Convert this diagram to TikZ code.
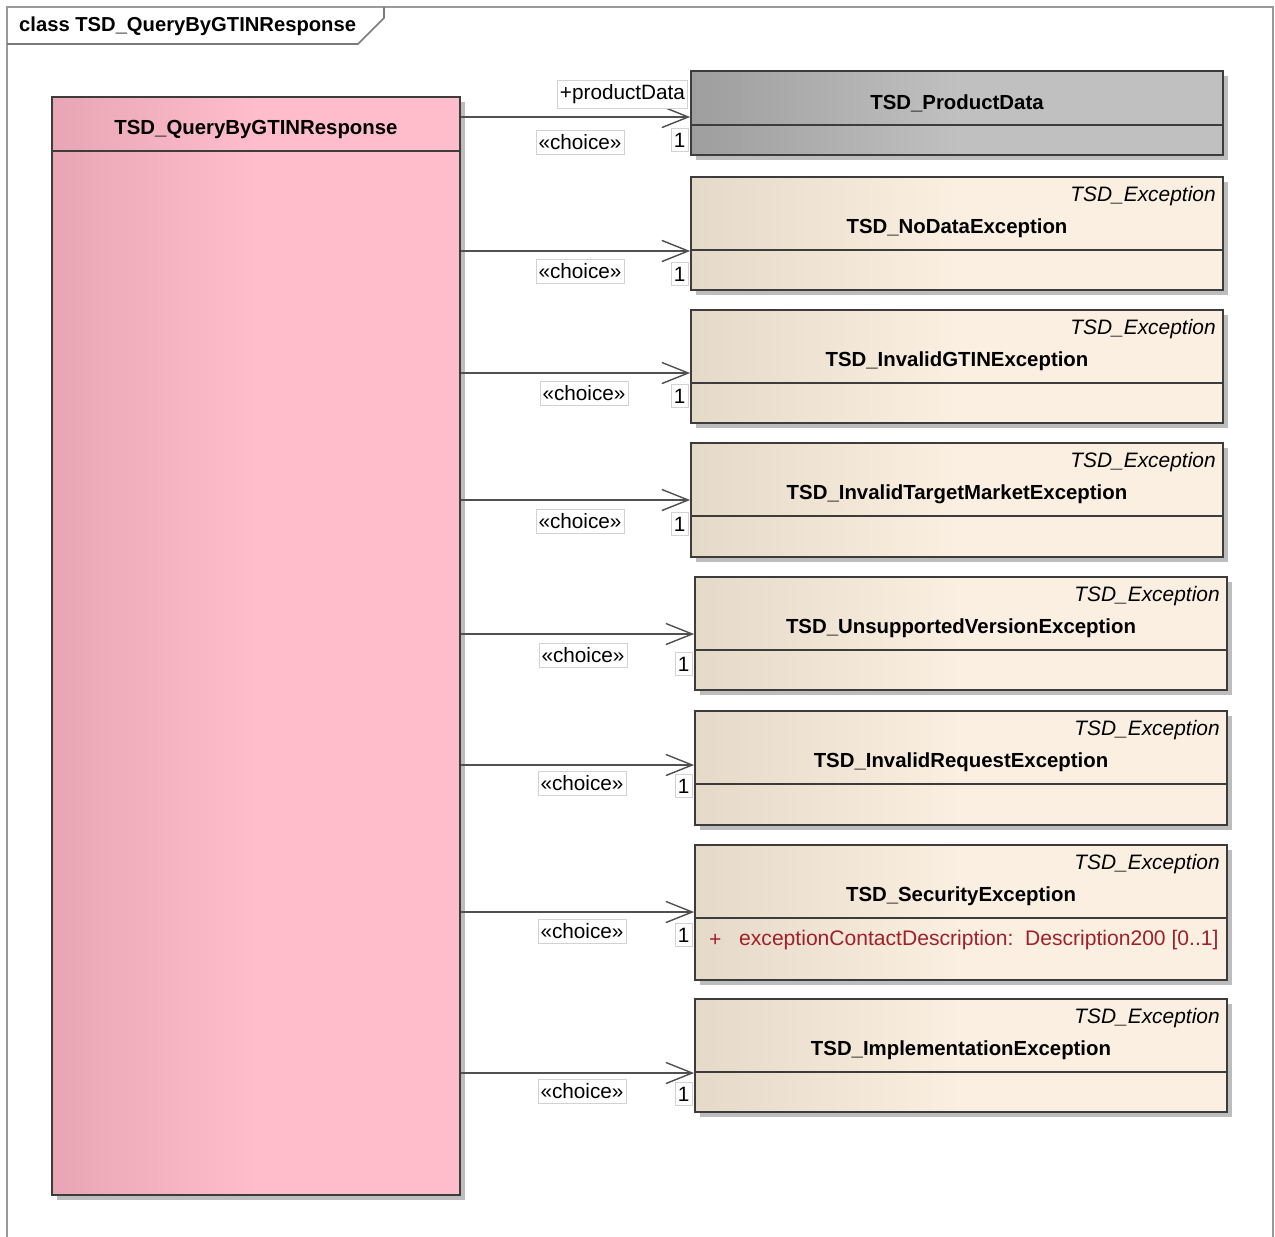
\documentclass[tikz,border=0pt]{standalone}
\usepackage{fontspec}
\setmainfont{Liberation Sans}
\usetikzlibrary{arrows.meta,fit}
\definecolor{framegray}{HTML}{9A9A9A}
\definecolor{lineclr}{HTML}{505050}
\definecolor{borderclr}{HTML}{3C3C3C}
\definecolor{pinkleft}{HTML}{E8A6B4}
\definecolor{pinkright}{HTML}{FFBDCC}
\definecolor{grayleft}{HTML}{9E9E9E}
\definecolor{grayright}{HTML}{C0C0C0}
\definecolor{exleft}{HTML}{E5D9C8}
\definecolor{exright}{HTML}{FBEFE1}
\definecolor{attrred}{HTML}{A0202A}
\definecolor{shadowgray}{HTML}{BDBDBD}
\tikzset{
  umlbox/.style={draw=borderclr,line width=1pt,inner sep=0pt},
  namefont/.style={font=\fontsize{11.6}{13}\selectfont\bfseries},
  tagbox/.style={draw=gray!35,fill=white,inner xsep=1.5pt,inner ysep=2.5pt,font=\fontsize{11.8}{13}\selectfont},
  assoc/.style={draw=lineclr,line width=0.8pt,-{Straight Barb[length=15pt,width=12pt,line width=0.8pt]}},
}

\begin{document}
\begin{tikzpicture}[x=0.02cm,y=-0.02cm]
  \useasboundingbox (0,0) rectangle (1275,1237);
  % frame
  \draw[framegray,line width=1.2pt] (7,1240) -- (7,7) -- (1273,7) -- (1273,1240);
  \draw[framegray!80!black,line width=1pt] (7,44) -- (358,44) -- (384,18) -- (384,7);
  \node[anchor=west,font=\fontsize{11.5}{13}\selectfont\bfseries] (frametitle) at (13,26) {class TSD\_QueryByGTINResponse};
  % response class
  \fill[shadowgray] (57,102) rectangle (465,1200);
  \node[umlbox,left color=pinkleft,right color=pinkright,middle color=pinkright,fit={(52,97)(460,1195)}] (resp) {};
  \draw[borderclr,line width=1pt] (resp.west |- 0,151) -- (resp.east |- 0,151);
  \node[namefont] (respname) at (256,129) {TSD\_QueryByGTINResponse};
  % product data
  \fill[shadowgray] (696,76) rectangle (1228,160);
  \node[umlbox,left color=grayleft,right color=grayright,middle color=grayright,fit={(691,71)(1223,155)}] (pd) {};
  \draw[borderclr,line width=1pt] (pd.west |- 0,125) -- (pd.east |- 0,125);
  \node[namefont] (pdname) at (957,103) {TSD\_ProductData};
  % exceptions
  \foreach \n/\x/\ya/\yb/\name in {nodata/691/177/290/TSD\_NoDataException,
      gtin/691/310/423/TSD\_InvalidGTINException,
      market/691/443/557/TSD\_InvalidTargetMarketException,
      version/695/577/690/TSD\_UnsupportedVersionException,
      request/695/711/825/TSD\_InvalidRequestException,
      security/695/845/980/TSD\_SecurityException,
      impl/695/999/1112/TSD\_ImplementationException}{
    \fill[shadowgray] (\x+5,\ya+5) rectangle (\x+537,\yb+5);
    \node[umlbox,left color=exleft,right color=exright,middle color=exright,fit={(\x,\ya)(\x+532,\yb)}] (\n) {};
    \draw[borderclr,line width=1pt] (\n.west |- 0,\ya+73) -- (\n.east |- 0,\ya+73);
    \node[anchor=east,inner xsep=0pt,font=\fontsize{11.9}{13}\selectfont\itshape] (\n-st) at (\x+525,\ya+19) {TSD\_Exception};
    \node[namefont] (\n-name) at (\x+266,\ya+51) {\name};
  }
  \node[anchor=west,text=attrred,font=\fontsize{12}{13}\selectfont] (sec-plus) at (703,940) {+};
  \node[anchor=west,text=attrred,font=\fontsize{12}{13}\selectfont] (sec-attr) at (733,940) {exceptionContactDescription:\ \ Description200 [0..1]};
  % associations
  \foreach \n/\yc/\cx/\cy/\oy in {pd/117/580/142/140, nodata/251/580/271/274,
      gtin/373/584/393/396, market/500/580/521/524, version/634/583/655/664,
      request/765/582/783/786, security/912/582/931/935, impl/1073/582/1091/1094}{
    \draw[assoc] (resp.east |- 0,\yc) -- (\n.west |- 0,\yc);
    \node[tagbox] (\n-choice) at (\cx,\cy) {«choice»};
    \node[tagbox,left=1pt] (\n-one) at (\n.west |- 0,\oy) {1};
  }
  \node[tagbox,anchor=east] (pd-role) at (688,94) {+productData};
\end{tikzpicture}
\end{document}
